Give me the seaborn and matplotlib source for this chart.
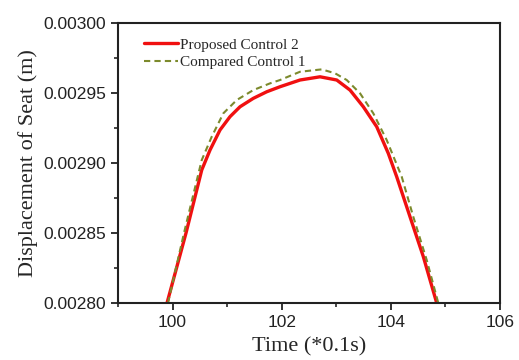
import matplotlib
matplotlib.use("Agg")
import matplotlib.pyplot as plt
import seaborn as sns
import pandas as pd
from matplotlib.ticker import FormatStrFormatter, MultipleLocator

# Data
red_x = [99.898, 100.246, 100.534, 100.686, 100.869, 101.052, 101.236, 101.479, 101.725,
         101.969, 102.335, 102.702, 103.008, 103.252, 103.495, 103.741, 103.953, 104.107,
         104.351, 104.595, 104.840]
red_y = [0.0028000, 0.0028500, 0.0028950, 0.0029093, 0.0029236, 0.0029331, 0.0029402,
         0.0029462, 0.0029509, 0.0029545, 0.0029593, 0.0029616, 0.0029593, 0.0029521,
         0.0029402, 0.0029259, 0.0029069, 0.0028902, 0.0028616, 0.0028331, 0.0028000]

green_x = [99.916, 100.209, 100.534, 100.717, 100.930, 101.175, 101.479, 101.785, 101.969,
           102.335, 102.733, 102.977, 103.191, 103.435, 103.678, 103.924, 104.199, 104.411,
           104.657, 104.869]
green_y = [0.0028000, 0.0028500, 0.0029021, 0.0029188, 0.0029355, 0.0029450, 0.0029521,
           0.0029569, 0.0029593, 0.0029652, 0.0029669, 0.0029641, 0.0029593, 0.0029498,
           0.0029355, 0.0029164, 0.0028902, 0.0028616, 0.0028307, 0.0028000]

label_red = "Proposed Control 2"
label_green = "Compared Control 1"

sns.set_style("ticks")
plt.rcParams['font.family'] = ['Liberation Sans', 'DejaVu Sans']

df_red = pd.DataFrame({"t": red_x, "d": red_y})
df_green = pd.DataFrame({"t": green_x, "d": green_y})

fig = plt.figure(figsize=(5.19, 3.60), dpi=100)
ax = fig.add_axes([0.2274, 0.1583, 0.7360, 0.7777])

sns.lineplot(data=df_red, x="t", y="d", ax=ax, color="#F01010", linewidth=2.4,
             label=label_red, sort=False, estimator=None)
sns.lineplot(data=df_green, x="t", y="d", ax=ax, color="#7C8A2C", linewidth=1.5,
             linestyle=(0, (3, 2)), label=label_green, sort=False, estimator=None)

ax.set_xlim(99, 106)
ax.set_ylim(0.00280, 0.00300)
ax.xaxis.set_major_locator(MultipleLocator(2))
ax.xaxis.set_minor_locator(MultipleLocator(1))
ax.yaxis.set_major_locator(MultipleLocator(0.00005))
ax.yaxis.set_minor_locator(MultipleLocator(0.000025))
ax.yaxis.set_major_formatter(FormatStrFormatter('%.5f'))
ax.set_xticks([100, 102, 104, 106])

ax.tick_params(axis='both', which='major', direction='out', length=5, width=1.3,
               labelsize=12.5, colors='#222222', top=False, right=False)
ax.tick_params(axis='both', which='minor', direction='out', length=3, width=1.2,
               top=False, right=False)
for s in ax.spines.values():
    s.set_linewidth(1.5)
    s.set_color('#222222')

ax.set_xlabel("Time (*0.1s)", family=['Liberation Serif'], fontsize=16, labelpad=5)
ax.set_ylabel("Displacement of Seat (m)", family=['Liberation Serif'], fontsize=16, labelpad=4)

leg = ax.legend(loc='upper left', bbox_to_anchor=(0.04, 0.985), frameon=False,
                prop={'family': 'Liberation Serif', 'size': 11},
                handlelength=2.2, handletextpad=0.15, labelspacing=0.25, borderaxespad=0.3)

fig.savefig("out.png", dpi=100)
